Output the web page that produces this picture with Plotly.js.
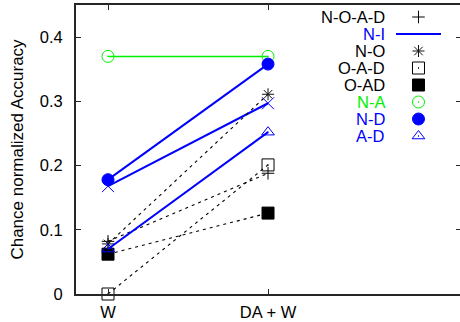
<!DOCTYPE html>
<html>
<head>
<meta charset="utf-8">
<script src="https://cdn.plot.ly/plotly-3.0.1.min.js"></script>
<style>
html, body { margin: 0; padding: 0; overflow: hidden; background: #fff; }
#chart { width: 470px; height: 322px; }
</style>
</head>
<body>
<div id="chart"></div>
<script>
// ---- data ----
const categories = ['W', 'DA + W'];
const seriesNames = ['N-O-A-D', 'N-I', 'N-O', 'O-A-D', 'O-AD', 'N-A', 'N-D', 'A-D'];
const nOAD = [0.082, 0.188];
const nI   = [0.168, 0.297];
const nO   = [0.078, 0.311];
const oAD  = [0.000, 0.201];
const oAD2 = [0.062, 0.126];
const nA   = [0.370, 0.370];
const nD   = [0.178, 0.358];
const aD   = [0.070, 0.252];
const yTicks = [0, 0.1, 0.2, 0.3, 0.4];
const yTickLabels = ['0', '0.1', '0.2', '0.3', '0.4'];
const yTitle = 'Chance normalized Accuracy';

const values = [nOAD, nI, nO, oAD, oAD2, nA, nD, aD];

// ---- styles ----
const BLUE = '#0000ff', GREEN = '#00f000', BLACK = '#000000';
const DASH = {color: BLACK, width: 1.1, dash: '3px,4px'};
const styles = {
  'N-O-A-D': {color: BLACK, symbol: 'cross-thin-open', size: 9, line: DASH, legendMarker: true},
  'N-I':     {color: BLUE, symbol: 'x-thin-open', size: 12, line: {color: BLUE, width: 2}, legendMarker: false},
  'N-O':     {color: '#111111', symbol: 'asterisk-open', size: 10, line: DASH, legendMarker: true},
  'O-A-D':   {color: BLACK, symbol: 'square-open-dot', size: 12, line: DASH, legendMarker: true},
  'O-AD':    {color: BLACK, symbol: 'square', size: 12, line: DASH, legendMarker: true},
  'N-A':     {color: GREEN, symbol: 'circle-open-dot', size: 12, line: {color: GREEN, width: 1.5}, legendMarker: true},
  'N-D':     {color: BLUE, symbol: 'circle', size: 12, line: {color: BLUE, width: 2}, legendMarker: true},
  'A-D':     {color: BLUE, symbol: 'triangle-up-open-dot', size: 11, line: {color: BLUE, width: 2}, legendMarker: true}
};
const labelColors = {'N-O-A-D': BLACK, 'N-I': BLUE, 'N-O': BLACK, 'O-A-D': BLACK, 'O-AD': BLACK, 'N-A': GREEN, 'N-D': BLUE, 'A-D': BLUE};

const FONT = 'Liberation Sans, Arial, Helvetica, sans-serif';
const traces = [];

// data traces
seriesNames.forEach((name, i) => {
  const s = styles[name];
  traces.push({
    type: 'scatter', mode: 'lines+markers', name: name,
    x: categories, y: values[i],
    xaxis: 'x', yaxis: 'y',
    line: s.line,
    marker: {symbol: s.symbol, size: s.size, color: s.color, line: {color: s.color, width: 1}},
    cliponaxis: false, showlegend: false, hoverinfo: 'skip'
  });
});

// key (legend) glyphs placed on a small category axis whose categories are the series names
seriesNames.forEach((name) => {
  const s = styles[name];
  if (s.legendMarker) {
    traces.push({
      type: 'scatter', mode: 'markers', x: [0], y: [name], xaxis: 'x2', yaxis: 'y2',
      marker: {symbol: s.symbol, size: s.size, color: s.color, line: {color: s.color, width: 1}},
      cliponaxis: false, showlegend: false, hoverinfo: 'skip'
    });
  } else {
    traces.push({
      type: 'scatter', mode: 'lines', x: [-1, 1], y: [name, name], xaxis: 'x2', yaxis: 'y2',
      line: {color: s.line.color, width: s.line.width},
      cliponaxis: false, showlegend: false, hoverinfo: 'skip'
    });
  }
});

const annotations = seriesNames.map((name) => ({
  xref: 'x2', yref: 'y2', x: -1.42, y: name, xanchor: 'right', yanchor: 'middle',
  text: name, showarrow: false, font: {family: FONT, size: 16.5, color: labelColors[name]}
}));

const FRAME = '#262626';
const layout = {
  width: 470, height: 322,
  margin: {l: 76, r: 9, t: 5, b: 28},
  paper_bgcolor: '#ffffff', plot_bgcolor: '#ffffff',
  font: {family: FONT, size: 16.5, color: '#000'},
  showlegend: false,
  xaxis: {
    type: 'category', categoryorder: 'array', categoryarray: categories,
    range: [-0.2, 2.206], showgrid: false, zeroline: false,
    showline: true, linecolor: FRAME, linewidth: 2, mirror: 'ticks',
    ticks: 'inside', ticklen: 5, tickwidth: 1, tickcolor: FRAME,
    ticklabelstandoff: 2,
    tickfont: {family: FONT, size: 16.5, color: '#000'}
  },
  yaxis: {
    range: [0, 0.45], tickvals: yTicks, ticktext: yTickLabels,
    showgrid: false, zeroline: false,
    showline: true, linecolor: FRAME, linewidth: 2, mirror: 'ticks',
    ticks: 'inside', ticklen: 5, tickwidth: 1, tickcolor: FRAME,
    ticklabelstandoff: 8,
    tickfont: {family: FONT, size: 16.5, color: '#000'},
    title: {text: yTitle, font: {family: FONT, size: 17, color: '#000'}, standoff: 12}
  },
  xaxis2: {
    domain: [0.7636, 0.975], anchor: 'y2', range: [-2.156, 1.462],
    visible: false, showgrid: false, zeroline: false, fixedrange: true
  },
  yaxis2: {
    domain: [0.5, 1], anchor: 'x2', type: 'category', categoryorder: 'array', categoryarray: seriesNames,
    range: [7.794, -0.706], visible: false, showgrid: false, zeroline: false, fixedrange: true
  },
  annotations: annotations
};

Plotly.newPlot('chart', traces, layout, {staticPlot: true, displayModeBar: false});
</script>
</body>
</html>
